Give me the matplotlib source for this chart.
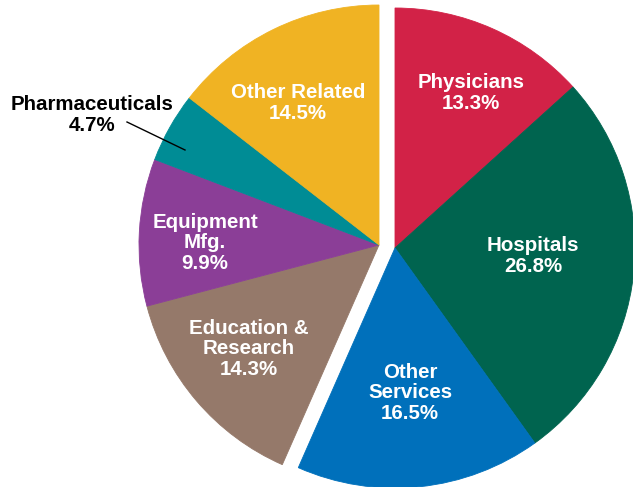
import matplotlib
matplotlib.use("Agg")
import matplotlib.pyplot as plt

categories = ["Physicians", "Hospitals", "Other\nServices", "Education &\nResearch",
              "Equipment\nMfg.", "Pharmaceuticals", "Other Related"]
values = [13.3, 26.8, 16.5, 14.3, 9.9, 4.7, 14.5]
colors = ["#D22247", "#00644F", "#0070BB", "#95796A", "#8B3E97", "#008C95", "#F0B323"]
right_group = [0, 1, 2]

plt.rcParams['font.family'] = ['Liberation Sans', 'DejaVu Sans']

fig = plt.figure(figsize=(6.33, 4.87), dpi=100)
ax = fig.add_axes([0, 0, 1, 1])
H = 487
cx, cy = 387, H - 246.5
R = 240
wedges, _ = ax.pie(values, startangle=90, counterclock=False, radius=R,
                   center=(cx, cy), colors=colors)
for i, w in enumerate(wedges):
    if i in right_group:
        w.set_center((cx + 8, cy - 1.5))
    else:
        w.set_center((cx - 8, cy + 1.5))
    w.set_edgecolor(w.get_facecolor())
    w.set_linewidth(0.6)

ax.set_xlim(0, 633)
ax.set_ylim(0, H)
ax.set_aspect('auto')
ax.axis('off')

label_pos = [(471, 93), (533, 256), (410, 393), (249, 349), (205, 243), (92, 115), (298, 103)]
for i, (name, v) in enumerate(zip(categories, values)):
    x, y = label_pos[i]
    col = 'black' if i == 5 else 'white'
    ax.text(x, H - y, f"{name}\n{v}%", ha='center', va='center', color=col,
            fontsize=14.8, fontweight='bold', linespacing=1.1)

ax.plot([127, 185], [H - 122, H - 150], color='black', lw=1)

fig.savefig("out.png", dpi=100)
